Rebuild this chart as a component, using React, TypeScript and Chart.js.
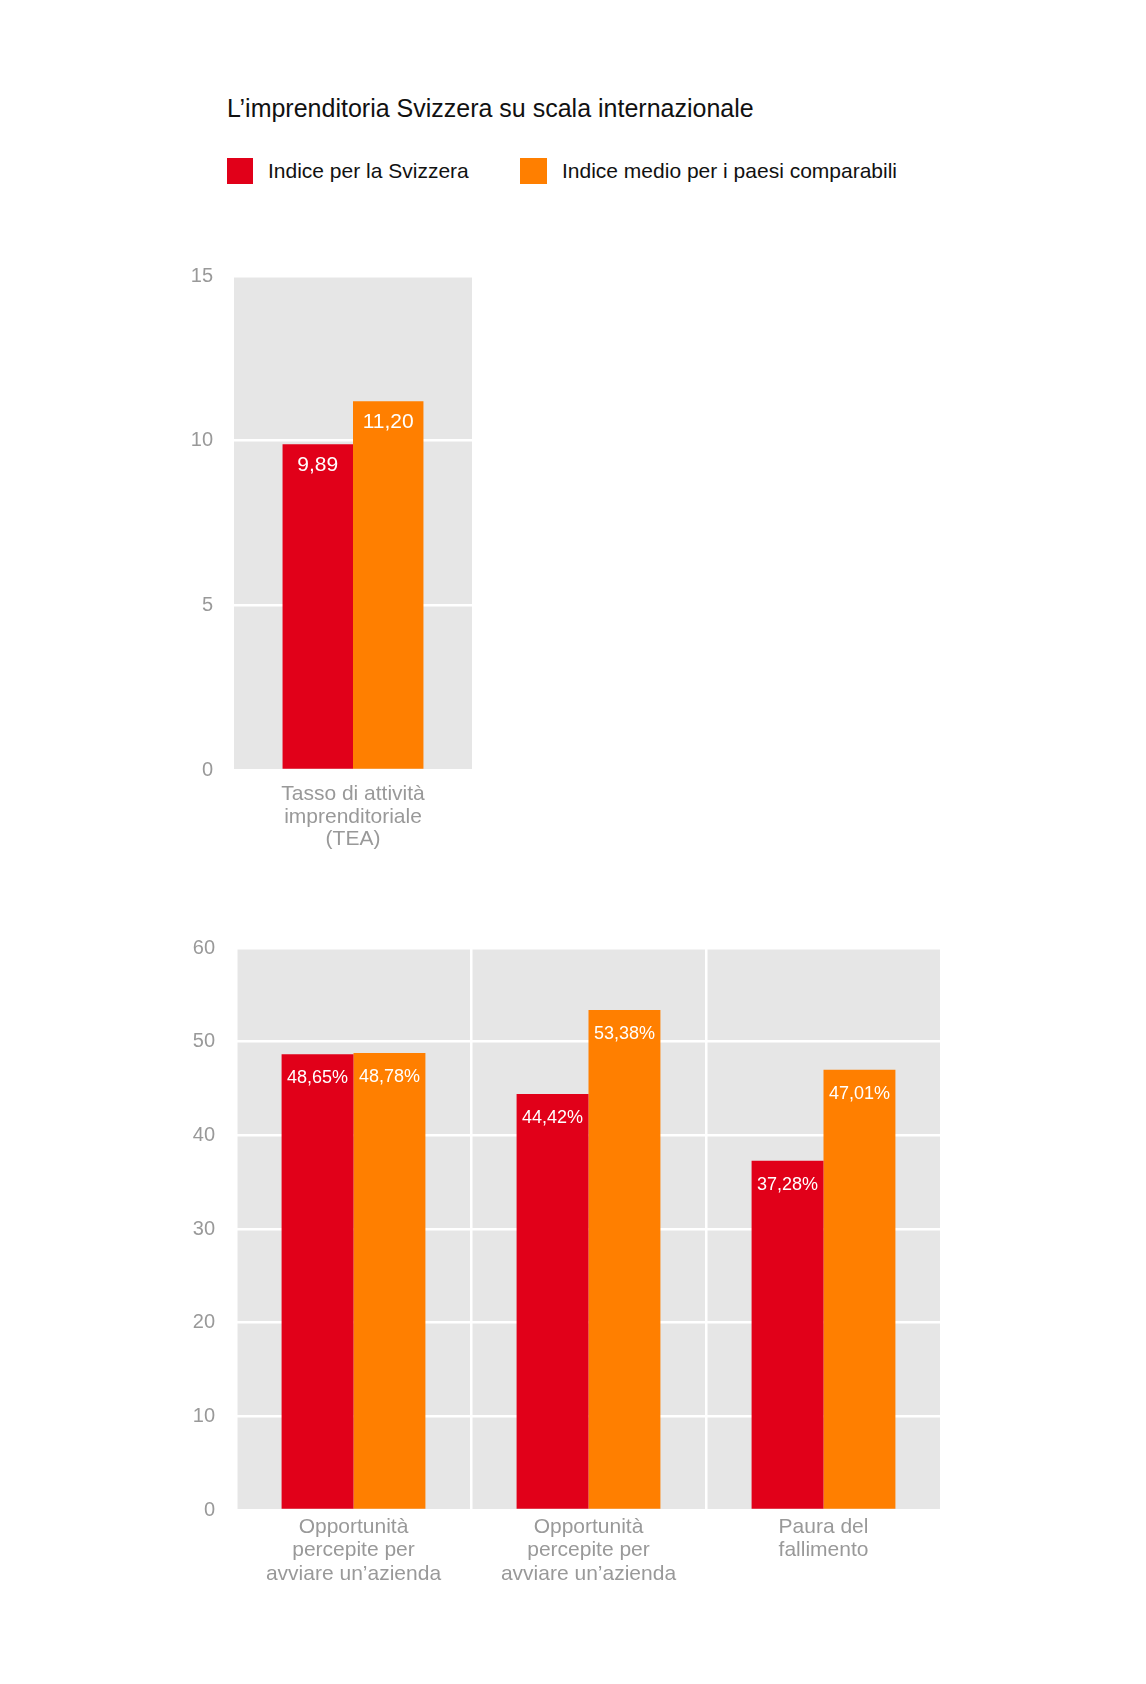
import React, { useEffect, useRef } from "react";
import { Chart, registerables } from "chart.js";

Chart.register(...registerables);

// ---------- DATA ----------
const titleText = "L’imprenditoria Svizzera su scala internazionale";
const seriesNames = ["Indice per la Svizzera", "Indice medio per i paesi comparabili"];
const seriesColors = ["#e10019", "#ff7f00"];

const topCategories = [["Tasso di attività", "imprenditoriale", "(TEA)"]];
const topSwiss = [9.89];
const topPeers = [11.2];
const topTickMax = 15;
const topTickStep = 5;

const bottomCategories = [
  ["Opportunità", "percepite per", "avviare un’azienda"],
  ["Opportunità", "percepite per", "avviare un’azienda"],
  ["Paura del", "fallimento"],
];
const bottomSwiss = [48.65, 44.42, 37.28];
const bottomPeers = [48.78, 53.38, 47.01];
const bottomTickMax = 60;
const bottomTickStep = 10;

// ---------- STYLE ----------
const FONT = "'Liberation Sans', Arial, Helvetica, sans-serif";
const PLOT_BG = "#e6e6e6";
const AXIS_TEXT = "#999999";

const plotBgPlugin = {
  id: "plotBg",
  beforeDraw(chart: any) {
    const { ctx, chartArea } = chart;
    if (!chartArea) return;
    ctx.save();
    ctx.fillStyle = PLOT_BG;
    ctx.fillRect(chartArea.left, chartArea.top, chartArea.right - chartArea.left, chartArea.bottom - chartArea.top);
    ctx.restore();
  },
};

function makeLabelPlugin(fontSize: number, offset: number, suffix: string) {
  return {
    id: "barLabels",
    afterDatasetsDraw(chart: any) {
      const { ctx } = chart;
      ctx.save();
      ctx.fillStyle = "#ffffff";
      ctx.font = `${fontSize}px ${FONT}`;
      ctx.textAlign = "center";
      ctx.textBaseline = "alphabetic";
      chart.data.datasets.forEach((ds: any, di: number) => {
        const meta = chart.getDatasetMeta(di);
        meta.data.forEach((bar: any, i: number) => {
          const v = ds.data[i] as number;
          const txt = v.toFixed(2).replace(".", ",") + suffix;
          ctx.fillText(txt, bar.x, bar.y + offset);
        });
      });
      ctx.restore();
    },
  };
}

type ChartBoxProps = {
  left: number;
  top: number;
  width: number;
  height: number;
  categories: string[][];
  swiss: number[];
  peers: number[];
  tickMax: number;
  tickStep: number;
  yAxisWidth: number;
  xAxisHeight: number;
  padding: { top: number; right: number; left: number; bottom: number };
  categoryPercentage: number;
  showXGrid: boolean;
  xLabelPadding: number;
  xLineHeight: number;
  labelFont: number;
  labelOffset: number;
  suffix: string;
};

function ChartBox(p: ChartBoxProps) {
  const ref = useRef<HTMLCanvasElement | null>(null);
  useEffect(() => {
    if (!ref.current) return;
    const chart = new Chart(ref.current, {
      type: "bar",
      data: {
        labels: p.categories,
        datasets: [
          {
            label: seriesNames[0],
            data: p.swiss,
            backgroundColor: seriesColors[0],
            borderWidth: 0,
            categoryPercentage: p.categoryPercentage,
            barPercentage: 1,
          },
          {
            label: seriesNames[1],
            data: p.peers,
            backgroundColor: seriesColors[1],
            borderWidth: 0,
            categoryPercentage: p.categoryPercentage,
            barPercentage: 1,
          },
        ],
      },
      options: {
        animation: false,
        responsive: false,
        devicePixelRatio: 1,
        layout: { padding: p.padding },
        plugins: {
          legend: { display: false },
          tooltip: { enabled: false },
          title: { display: false },
        },
        scales: {
          x: {
            grid: {
              display: p.showXGrid,
              color: "#ffffff",
              lineWidth: 2.5,
              drawTicks: false,
              offset: true,
            },
            border: { display: false },
            ticks: {
              color: AXIS_TEXT,
              font: { family: FONT, size: 21, lineHeight: p.xLineHeight },
              padding: p.xLabelPadding,
              maxRotation: 0,
              autoSkip: false,
            },
            afterFit: (s: any) => {
              s.height = p.xAxisHeight;
            },
          },
          y: {
            min: 0,
            max: p.tickMax,
            grid: { color: "#ffffff", lineWidth: 2.5, drawTicks: false },
            border: { display: false },
            ticks: {
              stepSize: p.tickStep,
              color: AXIS_TEXT,
              font: { family: FONT, size: 20 },
              padding: 21,
            },
            afterFit: (s: any) => {
              s.width = p.yAxisWidth;
            },
          },
        },
      },
      plugins: [plotBgPlugin, makeLabelPlugin(p.labelFont, p.labelOffset, p.suffix)],
    } as any);
    return () => chart.destroy();
  }, []);
  return (
    <canvas
      ref={ref}
      width={p.width}
      height={p.height}
      style={{ position: "absolute", left: p.left, top: p.top, width: p.width, height: p.height }}
    />
  );
}

export default function App() {
  const textBase: React.CSSProperties = { position: "absolute", fontFamily: FONT, color: "#111111", whiteSpace: "nowrap", margin: 0 };
  return (
    <div style={{ position: "absolute", left: 0, top: 0, width: 1146, height: 1684, background: "#ffffff", overflow: "hidden" }}>
      <div style={{ ...textBase, left: 227, top: 96, fontSize: 25, lineHeight: "25px" }}>{titleText}</div>
      <div style={{ position: "absolute", left: 227, top: 158, width: 26, height: 26, background: seriesColors[0] }} />
      <div style={{ ...textBase, left: 268, top: 160, fontSize: 21, lineHeight: "21px" }}>{seriesNames[0]}</div>
      <div style={{ position: "absolute", left: 520, top: 158, width: 27, height: 26, background: seriesColors[1] }} />
      <div style={{ ...textBase, left: 562, top: 160, fontSize: 21, lineHeight: "21px" }}>{seriesNames[1]}</div>

      <ChartBox
        left={130}
        top={236}
        width={350}
        height={634}
        categories={topCategories}
        swiss={topSwiss}
        peers={topPeers}
        tickMax={topTickMax}
        tickStep={topTickStep}
        yAxisWidth={104}
        xAxisHeight={100}
        padding={{ top: 40, right: 8, left: 0, bottom: 0 }}
        categoryPercentage={0.592}
        showXGrid={false}
        xLabelPadding={13}
        xLineHeight={1.07}
        labelFont={21}
        labelOffset={27}
        suffix=""
      />
      <ChartBox
        left={130}
        top={910}
        width={830}
        height={720}
        categories={bottomCategories}
        swiss={bottomSwiss}
        peers={bottomPeers}
        tickMax={bottomTickMax}
        tickStep={bottomTickStep}
        yAxisWidth={106}
        xAxisHeight={120}
        padding={{ top: 38, right: 19, left: 0, bottom: 0 }}
        categoryPercentage={0.612}
        showXGrid={true}
        xLabelPadding={6}
        xLineHeight={1.1}
        labelFont={18}
        labelOffset={29}
        suffix="%"
      />
    </div>
  );
}
